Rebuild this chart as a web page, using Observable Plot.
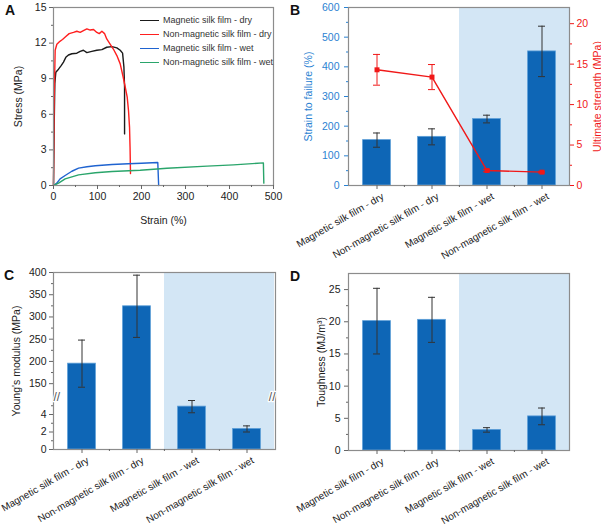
<!DOCTYPE html>
<html><head><meta charset="utf-8">
<script src="https://cdn.jsdelivr.net/npm/d3@7"></script>
<script src="https://cdn.jsdelivr.net/npm/@observablehq/plot@0.6"></script>
<style>
body{margin:0;background:#fff;font-family:"Liberation Sans",Arial,sans-serif;}
#fig{position:relative;width:601px;height:525px;overflow:hidden;background:#fff;}
.panel{position:absolute;}
.panel svg{overflow:visible;}
.lbl{position:absolute;font-weight:bold;font-size:14px;line-height:14px;color:#111;}
.legend{position:absolute;font-size:9px;color:#333;}
.legend .row{display:flex;align-items:center;height:14px;}
.legend .sw{width:19px;height:0;margin-right:4px;border-top:1.5px solid;}
</style></head><body><div id="fig"></div><script>
// ---------- data ----------
const categories = ["Magnetic silk film - dry","Non-magnetic silk film - dry","Magnetic silk film - wet","Non-magnetic silk film - wet"];
const wetCategories = ["Magnetic silk film - wet","Non-magnetic silk film - wet"];
const seriesNames = ["Magnetic silk film - dry","Non-magnetic silk film - dry","Magnetic silk film - wet","Non-magnetic silk film - wet"];
const seriesColors = ["#1a1a1a","#ff1f1f","#1f63d0","#2aa56b"];

// Panel A stress-strain curves
const magDryStrain = [0,1.5,3,5.3,11.4,17.4,22.7,28,34,41.7,53,60.6,68,75.8,87,98.5,110,121,132.7,144,151.6,157,160,161.5,161.5];
const magDryStress = [0,4.9,8.6,9.55,9.8,10.1,10.4,10.8,11.0,11.1,11.15,11.3,11.4,11.2,11.3,11.4,11.45,11.65,11.7,11.6,11.4,11.15,10.0,8.3,4.35];
const nonMagDryStrain = [0,1.5,3.8,7.6,12.9,20.5,28,35.6,45.5,53,60.6,68,75.8,83.4,91,98.5,104,110,116,121,129,136,144,151.6,157.7,163,167.5,170.5,172.8,174,175];
const nonMagDryStress = [0,7.2,11.4,11.9,12.1,12.3,12.55,12.8,12.9,13.0,12.9,13.05,13.2,13.1,13.15,12.9,12.8,13.0,12.8,12.35,11.9,11.5,10.95,10.25,9.25,8.3,7.45,6.3,4.9,3.2,1.0];
const magWetStrain = [0,7.6,15,26.5,41.7,57,76,95,133,170,200,237,239];
const magWetStress = [0,0.2,0.56,0.84,1.2,1.46,1.58,1.67,1.77,1.83,1.87,1.94,0];
const nonMagWetStrain = [0,11.4,26.5,57,95,133,197,258,349,409,477,478];
const nonMagWetStress = [0,0.2,0.56,0.9,1.07,1.18,1.28,1.45,1.63,1.74,1.91,0.2];
const strainTicks = [0,100,200,300,400,500];
const strainMinorTicks = [50,150,250,350,450];
const stressTicks = [0,3,6,9,12,15];
const stressMinorTicks = [1.5,4.5,7.5,10.5,13.5];

// Panel B
const strainToFailure = [153,164,224,452];
const strainToFailureErr = [24,27,13,85];
const ultimateStrength = [14.3,13.4,1.85,1.65];
const ultimateStrengthErr = [1.9,1.55,0.15,0.1];
const strainFailTicks = [0,100,200,300,400,500,600];
const strainFailMinor = [50,150,250,350,450,550];
const strengthTicks = [0,5,10,15,20];
const strengthMinor = [2.5,7.5,12.5,17.5];
const strainFailMax = 600;
const strengthMax = 22;

// Panel C
const youngsModulus = [195,324,4.9,2.35];
const youngsModulusErr = [53,70,0.7,0.35];
const modulusTicks = [0,2,4,150,200,250,300,350,400];
const modulusMinor = [1,3,5,175,225,275,325,375];
const modulusBreakLow = 6, modulusBreakHigh = 120, modulusMax = 400;

// Panel D
const toughness = [20.1,20.3,3.2,5.3];
const toughnessErr = [5.1,3.5,0.35,1.3];
const toughTicks = [0,5,10,15,20,25];
const toughMinor = [2.5,7.5,12.5,17.5,22.5];
const toughMax = 27.5;

// ---------- style ----------
const fontFamily = '"Liberation Sans", Arial, sans-serif';
const frameColor = "#8c8c8c", tickColor = "#666", textColor = "#222";
const barColor = "#0e66b6", barStroke = "#5d9fd8", shade = "#d3e6f5";
const blueText = "#2a82d2", red = "#f01818", errColor = "#333";
const baseStyle = {fontFamily, fontSize: "10px", color: textColor, overflow: "visible", background: "transparent"};

const fig = document.getElementById("fig");
function place(el, left, top) {
  const d = document.createElement("div");
  d.className = "panel"; d.style.left = left + "px"; d.style.top = top + "px";
  d.appendChild(el); fig.appendChild(d);
}
function letter(t, left, top) {
  const d = document.createElement("div");
  d.className = "lbl"; d.textContent = t; d.style.left = left + "px"; d.style.top = top + "px";
  fig.appendChild(d);
}

// ---------- Panel A ----------
const curves = [];
[[magDryStrain,magDryStress],[nonMagDryStrain,nonMagDryStress],[magWetStrain,magWetStress],[nonMagWetStrain,nonMagWetStress]]
  .forEach(([xs,ys],s) => xs.forEach((x,i) => curves.push({series: seriesNames[s], strain: x, stress: ys[i]})));

const plotA = Plot.plot({
  width: 300, height: 262, marginLeft: 53, marginRight: 27, marginTop: 7, marginBottom: 77,
  style: baseStyle,
  x: {domain: [0,500]},
  y: {domain: [0,15]},
  color: {domain: seriesNames, range: seriesColors},
  marks: [
    Plot.line(curves, {x: "strain", y: "stress", z: "series", stroke: "series", strokeWidth: 1.4}),
    Plot.frame({stroke: frameColor, strokeWidth: 1.2}),
    Plot.axisX({ticks: strainTicks, tickSize: 4, tickPadding: 3, stroke: tickColor, label: "Strain (%)", labelAnchor: "center", labelArrow: "none", labelOffset: 38, fontSize: 10.5}),
    Plot.axisX({ticks: strainMinorTicks, tickSize: 2, tickFormat: () => "", stroke: tickColor, label: null}),
    Plot.axisY({ticks: stressTicks, tickSize: 4, tickPadding: 3, stroke: tickColor, label: "Stress (MPa)", labelAnchor: "center", labelArrow: "none", labelOffset: 39, fontSize: 10.5}),
    Plot.axisY({ticks: stressMinorTicks, tickSize: 2, tickFormat: () => "", stroke: tickColor, label: null})
  ]
});
place(plotA, 0, 0);

// legend for A
const leg = document.createElement("div");
leg.className = "legend"; leg.style.left = "140px"; leg.style.top = "13px";
seriesNames.forEach((n,i) => {
  const r = document.createElement("div"); r.className = "row";
  const sw = document.createElement("span"); sw.className = "sw"; sw.style.borderTopColor = seriesColors[i];
  const t = document.createElement("span"); t.textContent = n;
  r.appendChild(sw); r.appendChild(t); leg.appendChild(r);
});
fig.appendChild(leg);

// ---------- bar panel helper ----------
function table(vals, errs) { return categories.map((c,i) => ({cat: c, v: vals[i], e: errs[i]})); }
const bandInset = 13.6, capInset = 24, halfBand = 27.6;
function barMarks(tab, yLo, yHi) {
  return [
    Plot.barY(wetCategories, {x: d => d, y1: () => yLo, y2: () => yHi, fill: shade}),
    Plot.barY(tab, {x: "cat", y: "v", fill: barColor, stroke: barStroke, strokeWidth: 0.8, insetLeft: bandInset, insetRight: bandInset}),
    Plot.ruleX(tab, {x: "cat", y1: d => d.v - d.e, y2: d => d.v + d.e, stroke: errColor, strokeWidth: 1}),
    Plot.tickY(tab, {x: "cat", y: d => d.v + d.e, stroke: errColor, strokeWidth: 1, insetLeft: capInset, insetRight: capInset}),
    Plot.tickY(tab, {x: "cat", y: d => d.v - d.e, stroke: errColor, strokeWidth: 1, insetLeft: capInset, insetRight: capInset})
  ];
}
function catAxis() {
  return [
    Plot.axisX({tickSize: 4, tickFormat: () => "", stroke: tickColor, label: null}),
    Plot.axisX({ticks: categories.slice(1), tickSize: 2, tickFormat: () => "", stroke: tickColor, label: null, dx: -halfBand}),
    Plot.axisX({tickSize: 0, tickPadding: 10, tickRotate: -30, dx: 6, label: null, fontSize: 10})
  ];
}

// ---------- Panel B ----------
const k = strainFailMax / strengthMax;
const tabB = categories.map((c,i) => ({cat: c, v: strainToFailure[i], e: strainToFailureErr[i], s: ultimateStrength[i] * k, se: ultimateStrengthErr[i] * k}));
const plotB = Plot.plot({
  width: 301, height: 262, marginLeft: 48, marginRight: 32, marginTop: 7, marginBottom: 77,
  style: baseStyle,
  x: {domain: categories, padding: 0},
  y: {domain: [0, strainFailMax]},
  marks: [
    ...barMarks(tabB, 0, strainFailMax),
    Plot.line(tabB, {x: "cat", y: "s", stroke: red, strokeWidth: 1.4}),
    Plot.ruleX(tabB, {x: "cat", y1: d => d.s - d.se, y2: d => d.s + d.se, stroke: red, strokeWidth: 1}),
    Plot.tickY(tabB, {x: "cat", y: d => d.s + d.se, stroke: red, strokeWidth: 1, insetLeft: capInset, insetRight: capInset}),
    Plot.tickY(tabB, {x: "cat", y: d => d.s - d.se, stroke: red, strokeWidth: 1, insetLeft: capInset, insetRight: capInset}),
    Plot.dot(tabB, {x: "cat", y: "s", symbol: "square", fill: red, r: 2.8}),
    Plot.frame({stroke: frameColor, strokeWidth: 1.2}),
    ...catAxis(),
    Plot.axisY({ticks: strainFailTicks, tickSize: 4, tickPadding: 5, color: blueText, label: "Strain to failure (%)", labelAnchor: "center", labelArrow: "none", labelOffset: 44, fontSize: 10.5}),
    Plot.axisY({ticks: strainFailMinor, tickSize: 2, tickFormat: () => "", color: blueText, label: null}),
    Plot.axisY(strengthTicks.map(t => t * k), {anchor: "right", tickSize: 4, tickPadding: 3, tickFormat: d => Math.round(d / k), color: red, label: "Ultimate strength (MPa)", labelAnchor: "center", labelArrow: "none", labelOffset: 31, fontSize: 10.5}),
    Plot.axisY(strengthMinor.map(t => t * k), {anchor: "right", tickSize: 2, tickFormat: () => "", color: red, label: null})
  ]
});
place(plotB, 300, 0);

// ---------- Panel C ----------
const tabC = table(youngsModulus, youngsModulusErr);
const plotC = Plot.plot({
  width: 300, height: 263, marginLeft: 53, marginRight: 25, marginTop: 10, marginBottom: 76,
  style: baseStyle,
  x: {domain: categories, padding: 0},
  y: {type: "linear", domain: [0, modulusBreakLow, modulusBreakHigh, modulusMax], range: [187, 134.5, 134.5, 10]},
  marks: [
    ...barMarks(tabC, 0, modulusMax),
    Plot.frame({stroke: frameColor, strokeWidth: 1.2}),
    ...catAxis(),
    Plot.axisY({ticks: modulusTicks, tickSize: 4, tickPadding: 3, stroke: tickColor, label: "Young's modulus (MPa)", labelAnchor: "center", labelArrow: "none", labelOffset: 41, fontSize: 10.5}),
    Plot.axisY({ticks: modulusMinor, tickSize: 2, tickFormat: () => "", stroke: tickColor, label: null}),
    Plot.text(["//"], {frameAnchor: "left", y: () => modulusBreakLow, text: d => d, fontSize: 12, fill: "#555", stroke: "white", strokeWidth: 2.5, paintOrder: "stroke"}),
    Plot.text(["//"], {frameAnchor: "right", y: () => modulusBreakLow, text: d => d, fontSize: 12, fill: "#555", stroke: "white", strokeWidth: 2.5, paintOrder: "stroke"})
  ]
});
place(plotC, 0, 262);

// ---------- Panel D ----------
const tabD = table(toughness, toughnessErr);
const plotD = Plot.plot({
  width: 301, height: 263, marginLeft: 48, marginRight: 32, marginTop: 11, marginBottom: 75,
  style: baseStyle,
  x: {domain: categories, padding: 0},
  y: {domain: [0, toughMax]},
  marks: [
    ...barMarks(tabD, 0, toughMax),
    Plot.frame({stroke: frameColor, strokeWidth: 1.2}),
    ...catAxis(),
    Plot.axisY({ticks: toughTicks, tickSize: 4, tickPadding: 4, stroke: tickColor, label: "Toughness (MJ/m³)", labelAnchor: "center", labelArrow: "none", labelOffset: 31, fontSize: 10.5}),
    Plot.axisY({ticks: toughMinor, tickSize: 2, tickFormat: () => "", stroke: tickColor, label: null})
  ]
});
place(plotD, 300, 262);

letter("A", 5, 3);
letter("B", 290, 3);
letter("C", 4, 268);
letter("D", 290, 269);
</script></body></html>
